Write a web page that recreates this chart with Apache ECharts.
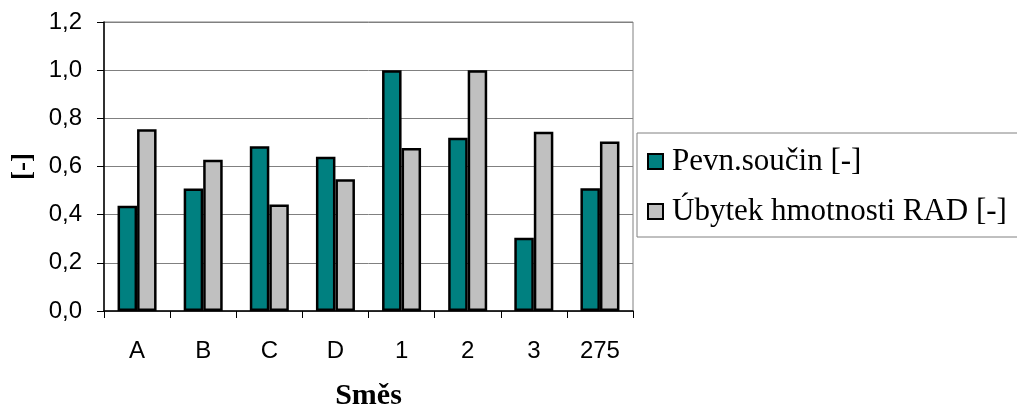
<!DOCTYPE html>
<html>
<head>
<meta charset="utf-8">
<script src="https://cdn.jsdelivr.net/npm/echarts@6/dist/echarts.min.js"></script>
<style>
html,body{margin:0;padding:0;background:#fff;}
#chart{width:1017px;height:411px;}
</style>
</head>
<body>
<div id="chart"></div>
<script>
var categories = ['A', 'B', 'C', 'D', '1', '2', '3', '275'];
var pevnSoucin = [0.437, 0.509, 0.684, 0.640, 1.000, 0.719, 0.304, 0.510];
var ubytekRAD = [0.755, 0.628, 0.442, 0.547, 0.677, 1.000, 0.744, 0.704];
var seriesNames = ['Pevn.součin [-]', 'Úbytek hmotnosti RAD [-]'];

var chart = echarts.init(document.getElementById('chart'), null, {renderer: 'canvas'});
chart.setOption({
  animation: false,
  backgroundColor: '#fff',
  grid: {
    left: 104, right: 384, top: 22, bottom: 100,
    outerBoundsMode: 'none',
    containLabel: false,
    show: true, borderColor: '#808080', borderWidth: 1, backgroundColor: 'transparent'
  },
  legend: {
    left: 637, top: 133,
    orient: 'vertical',
    padding: [13, 40, 10, 10],
    itemGap: 19,
    itemWidth: 15, itemHeight: 15,
    borderColor: '#808080', borderWidth: 1,
    icon: 'rect',
    textStyle: {fontFamily: 'Liberation Serif', fontSize: 31, color: '#000', lineHeight: 30, padding: [0,0,0,4]},
    data: seriesNames.map(function(n){ return {name: n, itemStyle: {borderColor: '#000', borderWidth: 2}}; })
  },
  xAxis: {
    type: 'category',
    data: categories,
    name: 'Směs',
    nameLocation: 'middle',
    nameGap: 70,
    nameTextStyle: {fontFamily: 'Liberation Serif', fontWeight: 'bold', fontSize: 30, color: '#000'},
    axisLine: {lineStyle: {color: '#000', width: 1.5}},
    axisTick: {show: true, length: 7, lineStyle: {color: '#000'}},
    axisLabel: {fontFamily: 'Liberation Sans', fontSize: 24, color: '#000', margin: 28},
    splitLine: {show: false}
  },
  yAxis: {
    type: 'value',
    min: 0, max: 1.2, interval: 0.2,
    name: '[-]',
    nameLocation: 'middle',
    nameGap: 67,
    nameRotate: 90,
    nameTextStyle: {fontFamily: 'Liberation Serif', fontWeight: 'bold', fontSize: 27, color: '#000'},
    axisLine: {show: true, lineStyle: {color: '#000', width: 1.5}},
    axisTick: {show: true, length: 7, lineStyle: {color: '#000'}},
    axisLabel: {
      fontFamily: 'Liberation Sans', fontSize: 24, color: '#000', margin: 22,
      formatter: function(v){ return v.toFixed(1).replace('.', ','); }
    },
    splitLine: {show: true, lineStyle: {color: '#808080', width: 1}}
  },
  series: [
    {
      name: seriesNames[0], type: 'bar', data: pevnSoucin,
      barGap: '0%', barCategoryGap: '41%',
      itemStyle: {color: '#008080', borderColor: '#000', borderWidth: 2.5}
    },
    {
      name: seriesNames[1], type: 'bar', data: ubytekRAD,
      itemStyle: {color: '#C0C0C0', borderColor: '#000', borderWidth: 2.5}
    }
  ]
});
</script>
</body>
</html>
